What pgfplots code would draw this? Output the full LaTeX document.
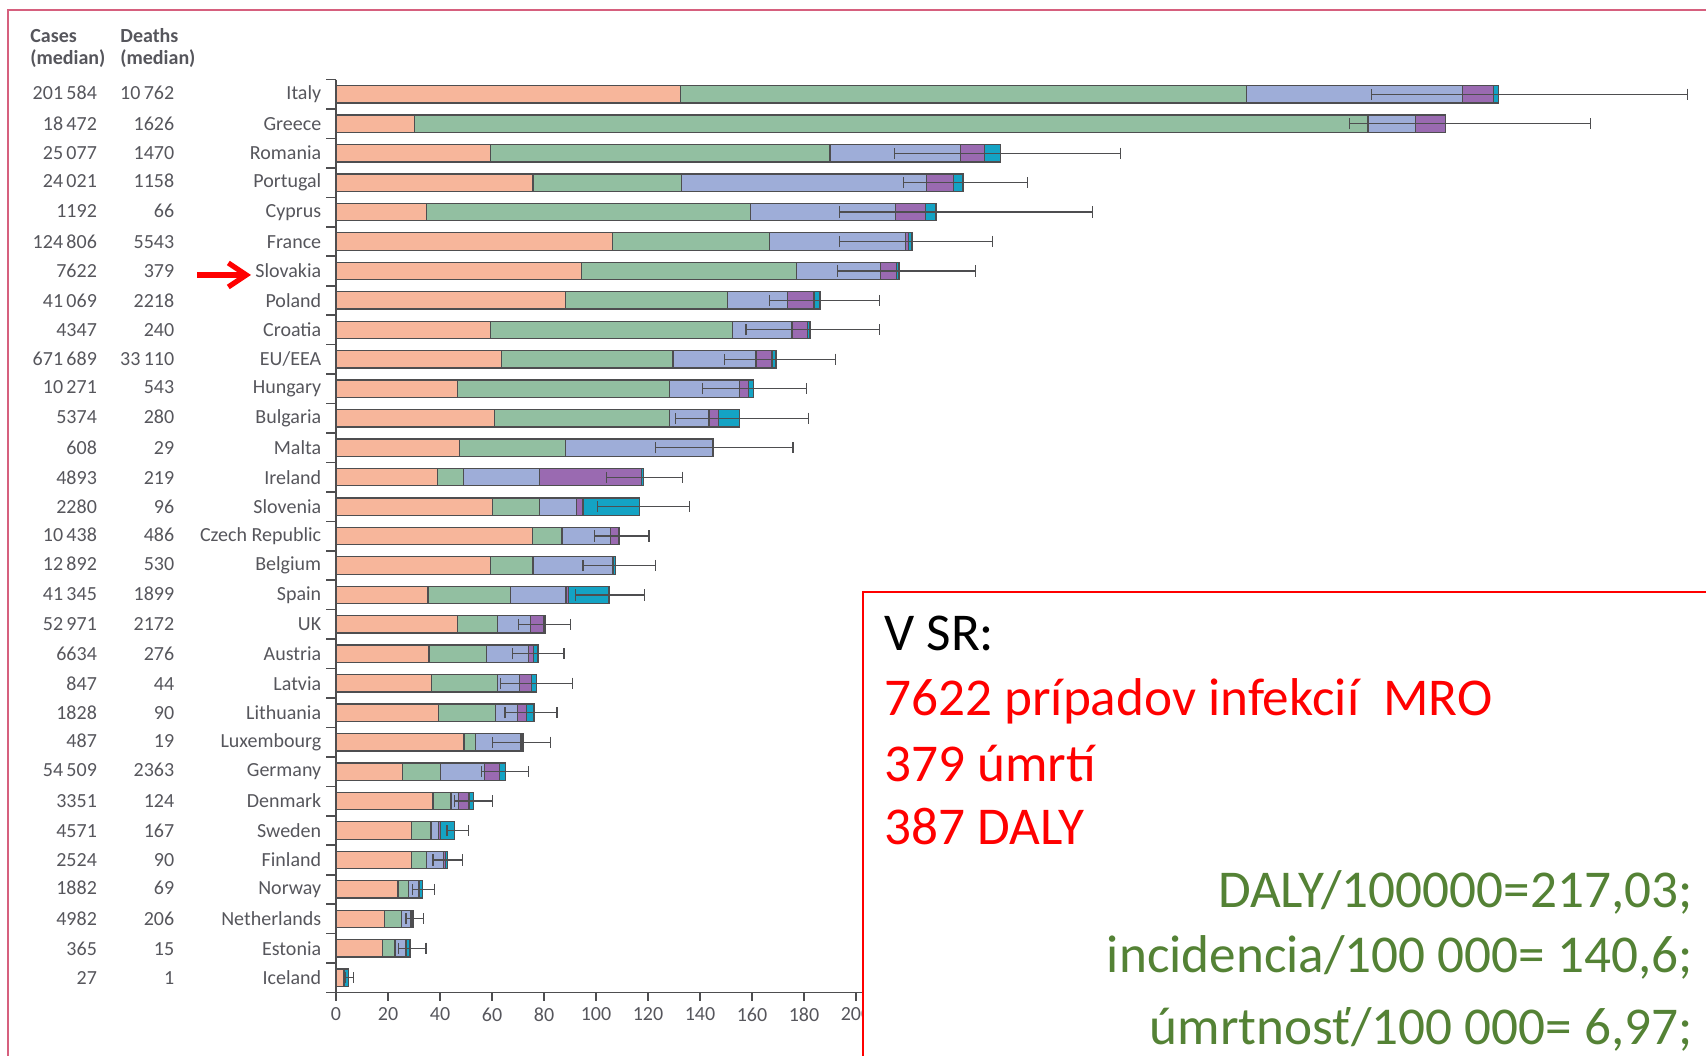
\documentclass[border=0pt]{standalone}
\usepackage{fontspec}
\setmainfont{Carlito}
\usepackage{pgfplots}
\pgfplotsset{compat=1.18}
\usepackage{pgfplotstable}
\usetikzlibrary{arrows.meta}

\definecolor{salmon}{HTML}{F7B69B}
\definecolor{sgreen}{HTML}{92BFA1}
\definecolor{lav}{HTML}{9EADD8}
\definecolor{purp}{HTML}{9A6AB1}
\definecolor{tealc}{HTML}{14A3C4}
\definecolor{edge}{HTML}{4E4E50}
\definecolor{txt}{HTML}{56565C}
\definecolor{okgreen}{HTML}{548235}
\definecolor{framec}{HTML}{D6607E}

\newcommand{\row}[3]{\makebox[40pt][r]{#1}\makebox[38.65pt][r]{#2}\makebox[73.5pt][r]{#3}}

\pgfplotstableread{
idx c1 c2 c3 c4 c5 lo hi
0 132.5 350.1 433.2 445.3 447.1 398.3 519.8
1 30.2 396.9 415.2 426.8 426.8 389.9 482.6
2 59.5 190.0 240.2 249.3 255.7 214.9 301.8
3 75.8 132.8 227.0 237.6 241.1 218.4 266.1
4 34.9 159.5 215.3 226.8 230.8 193.8 290.9
5 106.4 166.8 219.1 220.1 221.5 193.8 252.6
6 94.5 177.1 209.3 215.6 216.5 193.0 245.9
7 88.3 150.5 173.7 183.8 186.1 166.7 208.9
8 59.5 152.4 175.4 181.4 182.3 157.7 208.9
9 63.6 129.6 161.5 167.7 169.2 149.5 192.1
10 46.6 128.4 155.3 158.6 160.7 140.9 180.9
11 61.0 128.4 143.5 147.1 155.2 130.6 181.8
12 47.4 88.3 145.0 145.0 145.0 122.9 175.8
13 39.0 49.1 78.2 117.4 118.2 104.1 133.2
14 60.1 78.2 92.4 95.0 116.7 100.7 135.9
15 75.6 86.9 105.5 108.8 109.1 99.3 120.4
16 59.5 75.8 106.4 106.7 107.4 95.0 122.9
17 35.4 67.2 88.5 89.5 105.0 92.1 118.7
18 46.8 62.2 74.9 79.8 80.4 70.2 90.1
19 35.8 58.0 74.0 76.0 77.7 67.8 87.7
20 36.8 62.1 70.5 75.1 77.0 63.4 91.0
21 39.3 61.4 69.7 73.4 76.2 65.0 85.0
22 49.2 53.7 71.0 71.5 72.0 60.2 82.6
23 25.5 40.2 57.2 62.9 65.2 56.1 74.1
24 37.3 44.2 47.2 51.1 53.0 45.5 60.3
25 29.1 36.5 39.5 40.1 45.5 42.7 51.0
26 29.1 34.8 41.3 42.0 42.8 37.3 48.5
27 23.8 28.0 31.7 32.1 33.3 29.3 37.9
28 18.6 25.2 28.9 29.3 29.9 26.9 33.7
29 17.9 22.7 26.6 26.9 28.5 24.1 34.6
30 2.8 2.9 3.2 3.4 4.8 3.7 6.6
}\data

\pgfplotsset{
  common/.style={
    at={(168pt,31.25pt)}, anchor=south west,
    x=1.3pt, y=14.725pt, y dir=reverse,
    xmin=0, xmax=525, ymin=-0.5, ymax=30.5,
  },
  seg/.style={draw=edge, line width=0.65pt, fill=#1},
}

\begin{document}
\begin{tikzpicture}
\path[use as bounding box] (0,0) rectangle (853pt,527.5pt);

\begin{axis}[
  common,
  xbar stacked, bar width=8.7pt,
  axis x line*=bottom, axis y line*=left,
  axis line style={edge, line width=0.8pt},
  xtick={0,20,...,200},
  ytick={0,...,30},
  minor ytick={-0.5,0.5,...,30.5},
  tick align=outside,
  major tick length=4pt, minor tick length=5pt,
  major y tick style={draw=none},
  minor y tick style={edge, line width=0.8pt},
  major x tick style={edge, line width=0.8pt},
  /pgf/number format/assume math mode=true,
  xticklabel style={font=\fontsize{10}{12}\selectfont, text=txt},
  yticklabel style={font=\fontsize{10}{12}\selectfont, text=txt, anchor=east, inner sep=0pt, xshift=-3.2pt},
  yticklabels={
    {\row{201\thinspace584}{10\thinspace762}{Italy}},
    {\row{18\thinspace472}{1626}{Greece}},
    {\row{25\thinspace077}{1470}{Romania}},
    {\row{24\thinspace021}{1158}{Portugal}},
    {\row{1192}{66}{Cyprus}},
    {\row{124\thinspace806}{5543}{France}},
    {\row{7622}{379}{Slovakia}},
    {\row{41\thinspace069}{2218}{Poland}},
    {\row{4347}{240}{Croatia}},
    {\row{671\thinspace689}{33\thinspace110}{EU/EEA}},
    {\row{10\thinspace271}{543}{Hungary}},
    {\row{5374}{280}{Bulgaria}},
    {\row{608}{29}{Malta}},
    {\row{4893}{219}{Ireland}},
    {\row{2280}{96}{Slovenia}},
    {\row{10\thinspace438}{486}{Czech Republic}},
    {\row{12\thinspace892}{530}{Belgium}},
    {\row{41\thinspace345}{1899}{Spain}},
    {\row{52\thinspace971}{2172}{UK}},
    {\row{6634}{276}{Austria}},
    {\row{847}{44}{Latvia}},
    {\row{1828}{90}{Lithuania}},
    {\row{487}{19}{Luxembourg}},
    {\row{54\thinspace509}{2363}{Germany}},
    {\row{3351}{124}{Denmark}},
    {\row{4571}{167}{Sweden}},
    {\row{2524}{90}{Finland}},
    {\row{1882}{69}{Norway}},
    {\row{4982}{206}{Netherlands}},
    {\row{365}{15}{Estonia}},
    {\row{27}{1}{Iceland}}
  },
]
\addplot[seg=salmon] table[x=c1, y=idx] {\data};
\addplot[seg=sgreen] table[x expr=\thisrow{c2}-\thisrow{c1}, y=idx] {\data};
\addplot[seg=lav] table[x expr=\thisrow{c3}-\thisrow{c2}, y=idx] {\data};
\addplot[seg=purp] table[x expr=\thisrow{c4}-\thisrow{c3}, y=idx] {\data};
\addplot[seg=tealc] table[x expr=\thisrow{c5}-\thisrow{c4}, y=idx] {\data};
\end{axis}

\begin{axis}[common, hide axis]
\addplot[draw=none, mark=none,
  error bars/.cd, x dir=both, x explicit,
  error bar style={draw=edge, line width=0.6pt},
  error mark options={draw=edge, line width=0.6pt, mark size=2.8pt, rotate=90}]
  table[x=c5, y=idx,
    x error plus expr=\thisrow{hi}-\thisrow{c5},
    x error minus expr=\thisrow{c5}-\thisrow{lo}] {\data};
\end{axis}

% headers
\begin{scope}[every node/.style={inner sep=0pt, anchor=west, text=txt, font=\fontsize{10}{12}\selectfont\bfseries}]
\node at (15pt,509.5pt) {Cases};
\node at (15pt,498pt) {(median)};
\node at (60pt,509.5pt) {Deaths};
\node at (60pt,498pt) {(median)};
\end{scope}

% arrow
\draw[red, line width=2.6pt, -{Straight Barb[length=9pt, width=12pt]}] (98.5pt,390pt) -- (125.5pt,390pt);

% outer frame
\draw[framec, line width=1pt] (4pt,-7.5pt) -- (4pt,522.5pt) -- (860pt,522.5pt);

% text box
\draw[red, line width=1.2pt, fill=white] (431.5pt,231.5pt) rectangle (865pt,-12.5pt);
\begin{scope}[every node/.style={inner sep=0pt, font=\fontsize{26.6}{31}\selectfont}]
\node[anchor=base west] at (442pt,202pt) {V SR:};
\node[anchor=base west, text=red] at (442pt,169.5pt) {7622 prípadov infekcií~ MRO};
\node[anchor=base west, text=red] at (442pt,137pt) {379 úmrtí};
\node[anchor=base west, text=red] at (442pt,105.5pt) {387 DALY};
\node[anchor=base east, text=okgreen] at (846.5pt,74pt) {DALY/100000=217,03;};
\node[anchor=base east, text=okgreen] at (846.5pt,41.5pt) {incidencia/100 000= 140,6;};
\node[anchor=base east, text=okgreen] at (846.5pt,5.5pt) {úmrtnosť/100 000= 6,97;};
\end{scope}
\end{tikzpicture}
\end{document}
